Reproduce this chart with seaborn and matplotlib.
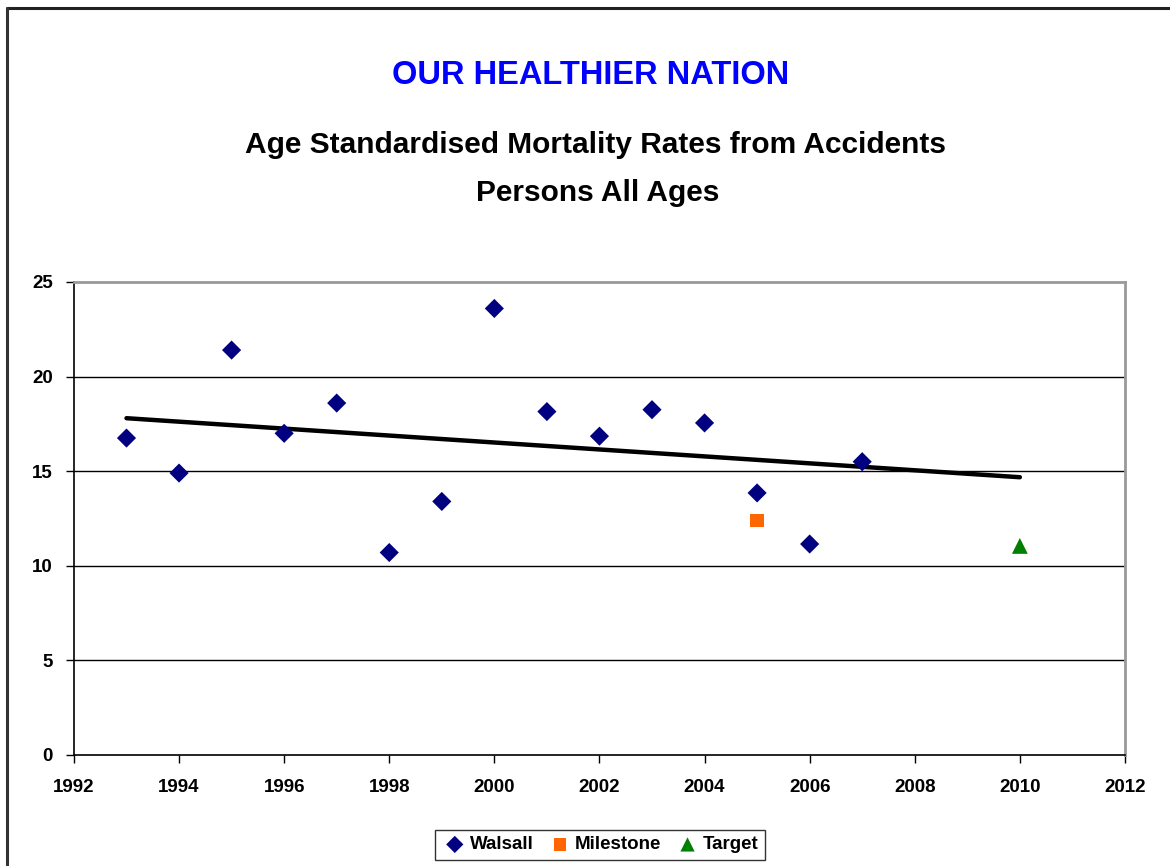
import matplotlib
matplotlib.use("Agg")
import matplotlib.pyplot as plt
import seaborn as sns
import pandas as pd
from matplotlib.lines import Line2D

# values
years = [1993, 1994, 1995, 1996, 1997, 1998, 1999, 2000,
         2001, 2002, 2003, 2004, 2005, 2006, 2007]
walsall = [16.75, 14.9, 21.4, 17.0, 18.6, 10.7, 13.4, 23.6,
           18.15, 16.85, 18.25, 17.55, 13.85, 11.15, 15.5]
milestone_year = [2005]
milestone = [12.4]
target_year = [2010]
target = [11.05]
trend_years = [1993, 2010]
trend = [17.8, 14.68]
x_ticks = [1992, 1994, 1996, 1998, 2000, 2002, 2004, 2006, 2008, 2010, 2012]
y_ticks = [0, 5, 10, 15, 20, 25]

sns.set_style("white")
plt.rcParams['font.family'] = ['Liberation Sans', 'DejaVu Sans']
plt.rcParams['text.color'] = 'black'
plt.rcParams['xtick.color'] = 'black'
plt.rcParams['ytick.color'] = 'black'

fig = plt.figure(figsize=(11.7, 8.66), dpi=100)
ax = fig.add_axes([0.0632, 0.1282, 0.8983, 0.5462])

df_w = pd.DataFrame({'year': years, 'rate': walsall})
df_m = pd.DataFrame({'year': milestone_year, 'rate': milestone})
df_t = pd.DataFrame({'year': target_year, 'rate': target})
df_tr = pd.DataFrame({'year': trend_years, 'rate': trend})

# gridlines
for v in y_ticks[1:-1]:
    ax.axhline(v, color='black', lw=1, zorder=0)

sns.lineplot(data=df_tr, x='year', y='rate', color='black', lw=3.2, ax=ax,
             zorder=2, legend=False)
sns.scatterplot(data=df_w, x='year', y='rate', marker='D', s=95, color='#000080',
                edgecolor='none', ax=ax, zorder=3, label='Walsall')
sns.scatterplot(data=df_m, x='year', y='rate', marker='s', s=95, color='#FF6600',
                edgecolor='none', ax=ax, zorder=3, label='Milestone')
sns.scatterplot(data=df_t, x='year', y='rate', marker='^', s=130, color='#008000',
                edgecolor='none', ax=ax, zorder=3, label='Target')

ax.set_xlim(1992, 2012)
ax.set_ylim(0, 25)
ax.set_xticks(x_ticks)
ax.set_yticks(y_ticks)
ax.set_xlabel('')
ax.set_ylabel('')
ax.tick_params(axis='both', direction='out', length=6, width=1, color='black',
               labelsize=13.5, labelcolor='black', left=True, bottom=True)
ax.tick_params(axis='x', pad=11)
ax.tick_params(axis='y', pad=9)
for lab in ax.get_xticklabels() + ax.get_yticklabels():
    lab.set_fontweight('bold')

for side in ['left', 'bottom']:
    ax.spines[side].set_color('black')
    ax.spines[side].set_linewidth(1.2)
for side in ['top', 'right']:
    ax.spines[side].set_color('#999999')
    ax.spines[side].set_linewidth(2)

# legend at the bottom
handles, labels = ax.get_legend_handles_labels()
ax.get_legend().remove()
leg = fig.legend(handles, labels, loc='center', bbox_to_anchor=(0.5128, 0.0245),
                 ncol=3, frameon=True, fancybox=False, edgecolor='black',
                 handlelength=1.4, handletextpad=0.1, columnspacing=0.7,
                 borderpad=0.35, prop={'weight': 'bold', 'size': 13.5},
                 markerscale=0.9)
leg.get_frame().set_linewidth(1)

# titles
fig.text(0.505, 0.913, 'OUR HEALTHIER NATION', ha='center', va='center',
         color='#0000FF', fontsize=23.5, fontweight='bold')
fig.text(0.509, 0.832, 'Age Standardised Mortality Rates from Accidents',
         ha='center', va='center', color='black', fontsize=21.5, fontweight='bold')
fig.text(0.511, 0.777, 'Persons All Ages', ha='center', va='center',
         color='black', fontsize=21.5, fontweight='bold')

# outer chart border (top and left visible)
fig.add_artist(Line2D([0.006, 1.0], [0.9908, 0.9908], color='#222222', lw=2.2,
                      transform=fig.transFigure))
fig.add_artist(Line2D([0.006, 0.006], [0.0, 0.9908], color='#333333', lw=2.2,
                      transform=fig.transFigure))

fig.savefig('out.png', dpi=100)
